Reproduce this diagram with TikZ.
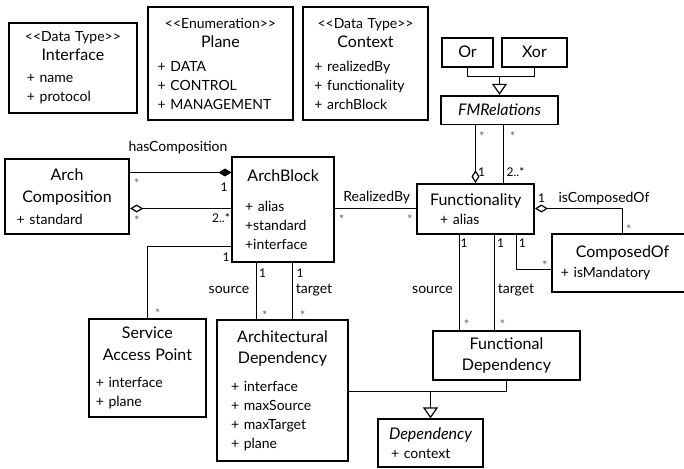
\documentclass[tikz,border=0pt]{standalone}
\usepackage{fontspec}
\setmainfont{Lato}
\usetikzlibrary{arrows.meta}

\newcommand{\attrfont}{\fontsize{14}{19}\selectfont\parindent=0pt}
\newcommand{\namefont}{\fontsize{16}{19}\selectfont}
\newcommand{\stereo}[1]{\makebox[\linewidth]{<{}<#1>{}>}\par}
\newcommand{\cname}[1]{\makebox[\linewidth]{\namefont #1}\par}

\begin{document}
\begin{tikzpicture}
[
    x=1pt, y=-1pt,
    classbox/.style={draw, line width=1.8pt, inner ysep=2pt, align=left, font=\attrfont},
    simplebox/.style={draw, line width=1.8pt, inner sep=0pt, font=\namefont},
    assoc/.style={line width=1.2pt},
    aggr/.style={assoc, -{Diamond[open, length=13pt, width=8pt]}},
    comp/.style={assoc, -{Diamond[length=13pt, width=8pt]}},
    gen/.style={assoc, -{Triangle[open, length=11pt, width=15pt]}},
    mult/.style={font=\fontsize{13}{13}\selectfont, text=black!60, inner sep=0pt, yshift=-2.5pt},
    one/.style={font=\fontsize{12}{12}\selectfont, inner sep=0pt},
    role/.style={font=\fontsize{14}{14}\selectfont, inner sep=0pt}
]
    \useasboundingbox (0,0) rectangle (684,468);

    % data types and enumeration
    \node[classbox, text width=92pt, inner xsep=17.7pt, minimum height=90pt] (iface) at (72.9,67.7)
        {\stereo{Data Type}\cname{Interface}\vspace{3pt}+ name\\+ protocol};
    \node[classbox, text width=125.6pt, inner xsep=10pt, minimum height=112.7pt] (plane) at (220.5,63.7)
        {\stereo{Enumeration}\cname{Plane}\vspace{5pt}+ DATA\\+ CONTROL\\+ MANAGEMENT};
    \node[classbox, text width=102.4pt, inner xsep=11.6pt, minimum height=112.7pt] (context) at (365.5,63.7)
        {\stereo{Data Type}\cname{Context}\vspace{5pt}+ realizedBy\\+ functionality\\+ archBlock};

    % feature model relations
    \node[simplebox, minimum width=50.4pt, minimum height=29pt] (orbox) at (467.5,52.2) {Or};
    \node[simplebox, minimum width=64.4pt, minimum height=29pt] (xorbox) at (534.5,52.2) {Xor};
    \node[simplebox, minimum width=117.6pt, minimum height=28.8pt] (fmrel) at (499.5,110.1) {\itshape FMRelations};

    % architecture side
    \node[classbox, text width=100.6pt, inner xsep=12pt, minimum height=74.7pt] (archcomp) at (67,196.7)
        {\cname{Arch}\vspace{2.5pt}\cname{Composition}\vspace{3pt}+ standard};
    \node[classbox, text width=76.3pt, inner xsep=12.7pt, minimum height=105.6pt] (archblock) at (283.2,209.5)
        {\cname{ArchBlock}\vspace{11pt}+ alias\\+standard\\+interface};
    \node[classbox, text width=103.3pt, inner xsep=6.7pt, minimum height=97.7pt] (sap) at (147.4,367.9)
        {\cname{Service}\vspace{2.5pt}\cname{Access Point}\vspace{8pt}+ interface\\+ plane};
    \node[classbox, text width=103pt, inner xsep=14.3pt, minimum height=141pt] (archdep) at (282.5,390.5)
        {\cname{Architectural}\vspace{2pt}\cname{Dependency}\vspace{9pt}+ interface\\+ maxSource\\+ maxTarget\\+ plane};

    % functional side
    \node[classbox, text width=71.3pt, inner xsep=22.7pt, minimum height=50pt] (func) at (475.7,209)
        {\cname{Functionality}\vspace{0.5pt}+ alias};
    \node[classbox, text width=123.2pt, inner xsep=8.7pt, minimum height=57.7pt] (composed) at (622.5,262.9)
        {\cname{ComposedOf}\vspace{1pt}+ isMandatory};
    \node[classbox, text width=130pt, inner xsep=8.3pt, minimum height=49.3pt] (funcdep) at (506.5,355.4)
        {\cname{Functional}\vspace{2pt}\cname{Dependency}};
    \node[classbox, text width=79pt, inner xsep=12.7pt, minimum height=47.4pt] (dep) at (430.5,443)
        {\cname{\itshape Dependency}\vspace{0.5pt}+ context};

    % bends of the connectors
    \coordinate (gj) at (499.5,76.5);
    \coordinate (hcY) at (0,172.5);
    \coordinate (agY) at (0,208.5);
    \coordinate (sapY) at (0,246.5);
    \coordinate (adA) at (256.5,0);
    \coordinate (adB) at (292.5,0);
    \coordinate (faX) at (475.5,0);
    \coordinate (fbX) at (503.5,0);
    \coordinate (fdA) at (459.5,0);
    \coordinate (fdB) at (494.5,0);
    \coordinate (coX) at (516.5,0);
    \coordinate (coY) at (0,269.5);
    \coordinate (gdY) at (0,391.5);

    \draw[assoc] (orbox.south) |- (gj) -| (xorbox.south);
    \draw[gen] (gj) -- (fmrel.north);
    \draw[comp] (archcomp.east |- hcY) -- (archblock.west |- hcY);
    \draw[aggr] (archblock.west |- agY) -- (archcomp.east |- agY);
    \draw[assoc] (archblock.east |- agY) -- (func.west |- agY);
    \draw[aggr] (fmrel.south -| faX) -- (func.north -| faX);
    \draw[assoc] (fmrel.south -| fbX) -- (func.north -| fbX);
    \draw[aggr] (composed.north) |- (func.east |- agY);
    \draw[assoc] (func.south -| coX) |- (composed.west |- coY);
    \draw[assoc] (func.south -| fdA) -- (funcdep.north -| fdA);
    \draw[assoc] (func.south -| fdB) -- (funcdep.north -| fdB);
    \draw[assoc] (archblock.west |- sapY) -| (sap.north);
    \draw[assoc] (archblock.south -| adA) -- (archdep.north -| adA);
    \draw[assoc] (archblock.south -| adB) -- (archdep.north -| adB);
    \draw[assoc] (archdep.east |- gdY) -| (funcdep.south);
    \draw[gen] (dep.north |- gdY) -- (dep.north);

    % role names and multiplicities
    \node[role] (lhas) at (178,147.3) {hasComposition};
    \node[mult] (m1) at (136.7,180.7) {*};
    \node[one] (o1) at (224,187) {1};
    \node[mult] (m2) at (137,218) {*};
    \node[one] (o2) at (221,218) {2..*};
    \node[role] (lreal) at (376.7,197.3) {RealizedBy};
    \node[mult] (m3) at (341.7,217.3) {*};
    \node[mult] (m4) at (410,217.3) {*};
    \node[mult] (m5) at (482,134) {*};
    \node[mult] (m6) at (512.7,134) {*};
    \node[one] (o3) at (481.7,171.7) {1};
    \node[one] (o4) at (515.5,172) {2..*};
    \node[one] (o5) at (541.7,198.3) {1};
    \node[role] (lcomp) at (604,198.3) {isComposedOf};
    \node[mult] (m7) at (629,227.3) {*};
    \node[mult] (m8) at (545,263.3) {*};
    \node[one] (o6) at (464,243.3) {1};
    \node[one] (o7) at (500.7,243.3) {1};
    \node[one] (o8) at (522.3,243.3) {1};
    \node[role] (lsrcf) at (432.5,290) {source};
    \node[role] (ltgtf) at (516,290) {target};
    \node[mult] (m9) at (466.7,322.3) {*};
    \node[mult] (m10) at (502.3,322.3) {*};
    \node[one] (o9) at (226,256.7) {1};
    \node[one] (o10) at (262.7,273.3) {1};
    \node[one] (o11) at (300,273.3) {1};
    \node[role] (lsrca) at (229,290) {source};
    \node[role] (ltgta) at (314,290) {target};
    \node[mult] (m11) at (157.7,311) {*};
    \node[mult] (m12) at (265,313.3) {*};
    \node[mult] (m13) at (302.7,313.3) {*};
\end{tikzpicture}
\end{document}
